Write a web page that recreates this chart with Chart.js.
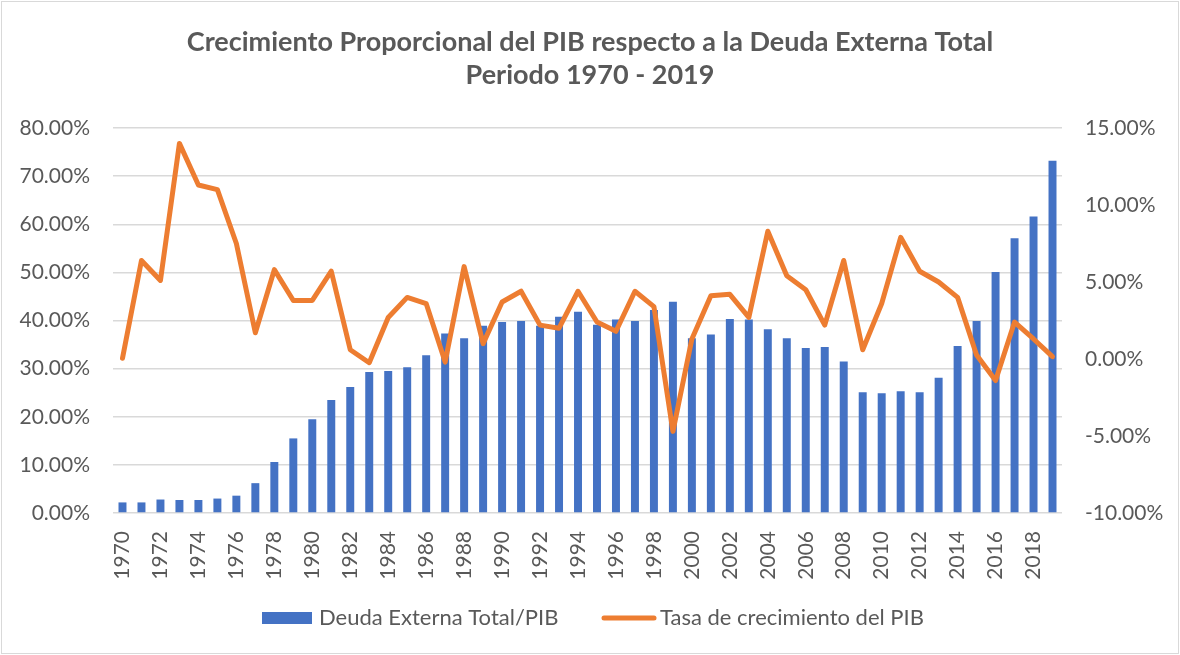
<!DOCTYPE html>
<html>
<head>
<meta charset="utf-8">
<script src="https://cdn.jsdelivr.net/npm/chart.js@4.4.1/dist/chart.umd.min.js"></script>
<style>
  html, body { margin: 0; padding: 0; background: #fff; }
  #wrap { position: relative; width: 1180px; height: 655px; }
</style>
</head>
<body>
<div id="wrap"><canvas id="chart"></canvas></div>
<script>
const years = [];
for (let y = 1970; y <= 2019; y++) years.push(String(y));

// Deuda Externa Total / PIB (%)
const deudaPib = [
  2.2, 2.2, 2.8, 2.7, 2.7, 3.0, 3.6, 6.2, 10.6, 15.5,
  19.5, 23.5, 26.2, 29.3, 29.5, 30.3, 32.8, 37.3, 36.3, 38.9,
  39.7, 39.9, 38.9, 40.8, 41.8, 39.1, 40.2, 39.9, 42.2, 43.9,
  36.3, 37.1, 40.3, 40.2, 38.2, 36.3, 34.3, 34.5, 31.5, 25.1,
  24.9, 25.3, 25.1, 28.1, 34.7, 39.9, 50.1, 57.1, 61.6, 73.2
];

// Tasa de crecimiento del PIB (%)
const crecimientoPib = [
  0.05, 6.4, 5.1, 14.0, 11.3, 11.0, 7.5, 1.7, 5.8, 3.8,
  3.8, 5.7, 0.6, -0.24, 2.7, 4.0, 3.6, -0.2, 6.0, 1.0,
  3.7, 4.4, 2.2, 2.0, 4.4, 2.4, 1.8, 4.4, 3.4, -4.7,
  1.3, 4.1, 4.2, 2.7, 8.3, 5.4, 4.5, 2.2, 6.4, 0.6,
  3.6, 7.9, 5.7, 5.0, 4.0, 0.26, -1.4, 2.4, 1.3, 0.15
];

const titleLines = [
  "Crecimiento Proporcional del PIB respecto a la Deuda Externa Total",
  "Periodo 1970 - 2019"
];

const FONT = "Lato, 'Open Sans', sans-serif";
const TEXT = "#595959";

const fmtPct = (v) => v.toFixed(2) + "%";

const frame = {
  id: "frame",
  beforeDraw(chart) {
    const ctx = chart.ctx;
    ctx.save();
    ctx.fillStyle = "#fff";
    ctx.fillRect(0, 0, chart.width, chart.height);
    ctx.strokeStyle = "#d9d9d9";
    ctx.lineWidth = 1;
    ctx.strokeRect(1.5, 1.5, chart.width - 3, chart.height - 3);
    ctx.restore();
  },
  afterDraw(chart) {
    const ctx = chart.ctx;
    const cx = 590;
    ctx.save();
    ctx.fillStyle = TEXT;
    ctx.textAlign = "center";
    ctx.textBaseline = "middle";
    ctx.font = "bold 27px " + FONT;
    ctx.fillText(titleLines[0], cx, 42);
    ctx.fillText(titleLines[1], cx, 75);

    // legend
    const ds = chart.data.datasets;
    const ly = 618;
    ctx.font = "22px " + FONT;
    ctx.textAlign = "left";
    ctx.fillStyle = ds[0].backgroundColor;
    ctx.fillRect(262, ly - 6, 50, 12);
    ctx.fillStyle = TEXT;
    ctx.fillText(ds[0].label, 319, ly);

    ctx.strokeStyle = ds[1].borderColor;
    ctx.lineWidth = 5;
    ctx.lineCap = "round";
    ctx.beginPath();
    ctx.moveTo(604, ly);
    ctx.lineTo(654, ly);
    ctx.stroke();
    ctx.fillStyle = TEXT;
    ctx.fillText(ds[1].label, 660, ly);
    ctx.restore();
  }
};

new Chart(document.getElementById("chart"), {
  data: {
    labels: years,
    datasets: [
      {
        type: "bar",
        label: "Deuda Externa Total/PIB",
        data: deudaPib,
        backgroundColor: "#4472C4",
        yAxisID: "y",
        barPercentage: 0.42,
        categoryPercentage: 1.0,
        order: 2
      },
      {
        type: "line",
        label: "Tasa de crecimiento del PIB",
        data: crecimientoPib,
        borderColor: "#ED7D31",
        backgroundColor: "#ED7D31",
        borderWidth: 5,
        pointRadius: 0,
        tension: 0,
        borderJoinStyle: "round",
        borderCapStyle: "round",
        yAxisID: "y1",
        order: 1
      }
    ]
  },
  options: {
    responsive: true,
    maintainAspectRatio: false,
    animation: false,
    layout: { padding: { top: 128, bottom: 62, left: 0, right: 0 } },
    plugins: {
      legend: { display: false },
      title: { display: false },
      tooltip: { enabled: false }
    },
    scales: {
      x: {
        grid: { display: false, drawTicks: false },
        border: { display: false },
        ticks: {
          autoSkip: false,
          minRotation: 90,
          maxRotation: 90,
          padding: 18,
          color: TEXT,
          font: { family: FONT, size: 21 },
          callback: (v, i) => (i % 2 === 0 ? years[i] : "")
        },
        afterFit: (s) => { s.height = 80; }
      },
      y: {
        position: "left",
        min: 0,
        max: 80,
        grid: { color: "#d9d9d9", lineWidth: 1.5, drawTicks: false },
        border: { display: false },
        ticks: {
          stepSize: 10,
          padding: 23,
          color: TEXT,
          font: { family: FONT, size: 21 },
          callback: fmtPct
        },
        afterFit: (s) => { s.width = 113; }
      },
      y1: {
        position: "right",
        min: -10,
        max: 15,
        grid: { display: false, drawTicks: false },
        border: { display: false },
        ticks: {
          stepSize: 5,
          padding: 23,
          color: TEXT,
          font: { family: FONT, size: 21 },
          callback: fmtPct
        },
        afterFit: (s) => { s.width = 118; }
      }
    }
  },
  plugins: [frame]
});
</script>
</body>
</html>
